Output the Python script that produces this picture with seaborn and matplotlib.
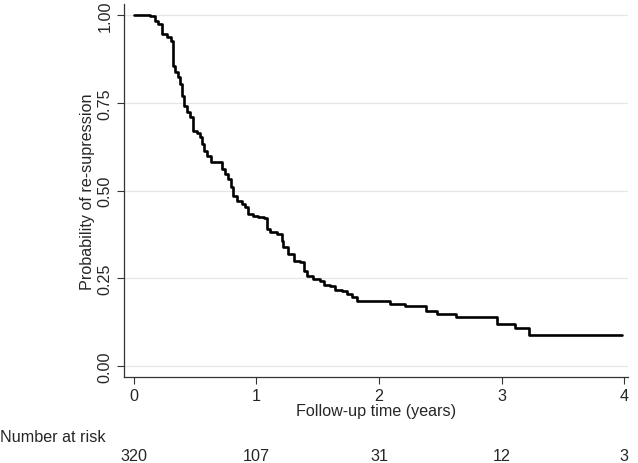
import seaborn as sns
import matplotlib.pyplot as plt
import matplotlib.transforms as mtransforms
import pandas as pd

# Kaplan-Meier estimate (step points: time, survival after step)
km_time = [0.000, 0.131, 0.171, 0.196, 0.229, 0.269, 0.302, 0.318, 0.335, 0.359,
           0.376, 0.392, 0.408, 0.433, 0.457, 0.482, 0.514, 0.539, 0.555, 0.571,
           0.596, 0.629, 0.718, 0.743, 0.767, 0.792, 0.808, 0.841, 0.882, 0.906,
           0.931, 0.971, 1.012, 1.061, 1.086, 1.110, 1.167, 1.208, 1.216, 1.257,
           1.306, 1.355, 1.388, 1.412, 1.461, 1.518, 1.551, 1.600, 1.641, 1.698,
           1.739, 1.780, 1.820, 2.090, 2.212, 2.380, 2.470, 2.630, 2.966, 3.110,
           3.220, 3.980]
km_surv = [1.000, 0.997, 0.983, 0.974, 0.946, 0.937, 0.926, 0.855, 0.838, 0.823,
           0.803, 0.769, 0.741, 0.724, 0.709, 0.670, 0.664, 0.652, 0.632, 0.613,
           0.598, 0.581, 0.561, 0.547, 0.533, 0.510, 0.484, 0.470, 0.462, 0.453,
           0.433, 0.427, 0.425, 0.422, 0.390, 0.382, 0.376, 0.356, 0.339, 0.319,
           0.299, 0.296, 0.271, 0.256, 0.248, 0.242, 0.231, 0.228, 0.217, 0.214,
           0.205, 0.197, 0.185, 0.177, 0.172, 0.158, 0.148, 0.140, 0.120, 0.108,
           0.088, 0.088]

risk_times = [0, 1, 2, 3, 4]
risk_counts = [320, 107, 31, 12, 3]

y_ticks = [0.0, 0.25, 0.5, 0.75, 1.0]
y_ticklabels = ["0.00", "0.25", "0.50", "0.75", "1.00"]

sns.set_style("ticks")
plt.rcParams["font.family"] = ["Liberation Sans", "DejaVu Sans"]
fs = 11.6

df = pd.DataFrame({"time": km_time, "surv": km_surv})

fig = plt.figure(figsize=(6.38, 4.64), dpi=100)
ax = fig.add_axes([0.194, 0.185, 0.790, 0.804])

sns.lineplot(data=df, x="time", y="surv", drawstyle="steps-post",
             color="black", linewidth=1.9, ax=ax)

ax.set_xlim(-0.082, 4.03)
ax.set_ylim(-0.031, 1.031)
ax.set_xticks(risk_times)
ax.set_yticks(y_ticks)
ax.set_yticklabels(y_ticklabels, rotation=90, va="center")
ax.tick_params(axis="both", labelsize=fs, length=5, width=0.8, color="#333333", pad=3)
ax.grid(axis="y", color="#e6e6e6", linewidth=0.9)
ax.set_axisbelow(True)

for side in ["top", "right"]:
    ax.spines[side].set_visible(False)
for side in ["left", "bottom"]:
    ax.spines[side].set_color("#333333")
    ax.spines[side].set_linewidth(0.9)

ax.set_xlabel("Follow-up time (years)", fontsize=fs, labelpad=0)
ax.set_ylabel("Probability of re-supression", fontsize=fs, labelpad=2)

# number at risk table
fig.text(0.0, 1 - 438 / 464, "Number at risk", fontsize=fs, ha="left", va="center")
trans = mtransforms.blended_transform_factory(ax.transData, fig.transFigure)
for t, n in zip(risk_times, risk_counts):
    ax.text(t, 1 - 457 / 464, str(n), transform=trans, fontsize=fs,
            ha="center", va="center")

plt.savefig("out.png", dpi=100)
